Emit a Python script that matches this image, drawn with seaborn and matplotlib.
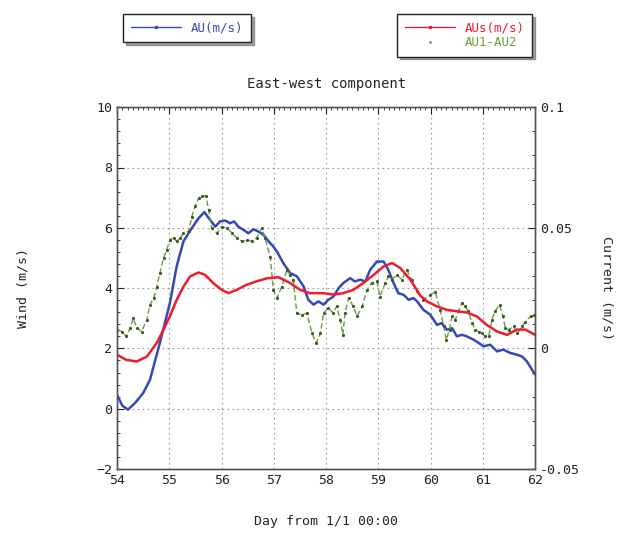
import numpy as np
import pandas as pd
import matplotlib
matplotlib.use("Agg")
import matplotlib.pyplot as plt
import seaborn as sns
from matplotlib.ticker import AutoMinorLocator, FixedLocator, FixedFormatter
from matplotlib.lines import Line2D

# ---- data ----
au_day = [54.0, 54.1, 54.21, 54.35, 54.5, 54.63, 54.82, 55.01, 55.14, 55.27, 55.43, 55.56, 55.67,
          55.78, 55.88, 55.97, 56.07, 56.16, 56.24, 56.32, 56.42, 56.51, 56.61, 56.7, 56.8, 56.9,
          56.99, 57.06, 57.18, 57.31, 57.44, 57.57, 57.66, 57.76, 57.85, 57.95, 58.04, 58.14,
          58.24, 58.33, 58.46, 58.55, 58.65, 58.75, 58.84, 58.97, 59.1, 59.19, 59.29, 59.38,
          59.48, 59.58, 59.67, 59.74, 59.86, 59.99, 60.12, 60.21, 60.31, 60.41, 60.5, 60.6,
          60.69, 60.82, 60.92, 61.01, 61.14, 61.27, 61.39, 61.52, 61.65, 61.75, 61.84, 61.94, 62.0]
au_wind = [0.46, 0.1, -0.03, 0.2, 0.52, 0.96, 2.19, 3.5, 4.72, 5.55, 5.99, 6.32, 6.52,
           6.26, 6.04, 6.21, 6.24, 6.15, 6.21, 6.04, 5.93, 5.82, 5.95, 5.88, 5.77, 5.55,
           5.38, 5.21, 4.83, 4.5, 4.39, 4.05, 3.61, 3.45, 3.56, 3.45, 3.61, 3.72,
           4.0, 4.17, 4.33, 4.22, 4.28, 4.22, 4.6, 4.88, 4.88, 4.6, 4.17, 3.83,
           3.78, 3.61, 3.67, 3.56, 3.28, 3.12, 2.78, 2.84, 2.62, 2.67, 2.4, 2.45,
           2.4, 2.29, 2.18, 2.07, 2.12, 1.9, 1.96, 1.85, 1.79, 1.73, 1.57, 1.29, 1.13]

aus_day = [54.0, 54.18, 54.38, 54.57, 54.76, 54.89, 55.01, 55.14, 55.27, 55.4, 55.56, 55.68,
           55.84, 56.0, 56.13, 56.29, 56.48, 56.67, 56.87, 57.09, 57.31, 57.5, 57.69, 57.95,
           58.14, 58.33, 58.52, 58.71, 58.91, 59.1, 59.26, 59.42, 59.61, 59.8, 59.93, 60.12,
           60.31, 60.5, 60.69, 60.88, 61.07, 61.27, 61.46, 61.65, 61.81, 62.0]
aus_cur = [-0.0026, -0.0048, -0.0054, -0.0034, 0.0023, 0.0078, 0.0133, 0.0201, 0.0256, 0.0299,
           0.0315, 0.0305, 0.0271, 0.0243, 0.0229, 0.0243, 0.0264, 0.0278, 0.0291, 0.0295,
           0.0271, 0.0243, 0.0229, 0.0229, 0.0223, 0.0229, 0.0243, 0.0271, 0.0305, 0.034,
           0.0354, 0.0333, 0.0285, 0.0219, 0.0195, 0.0174, 0.016, 0.0154, 0.0149, 0.0133,
           0.0098, 0.007, 0.0056, 0.0078, 0.0078, 0.0056]

diff_day = [54.0, 54.09, 54.18, 54.25, 54.31, 54.38, 54.47, 54.57, 54.63, 54.7, 54.76, 54.82,
            54.89, 54.95, 55.01, 55.08, 55.14, 55.21, 55.27, 55.37, 55.43, 55.49, 55.56, 55.62,
            55.7, 55.75, 55.81, 55.91, 56.0, 56.1, 56.2, 56.29, 56.39, 56.48, 56.58, 56.67,
            56.77, 56.83, 56.93, 56.99, 57.06, 57.15, 57.25, 57.31, 57.37, 57.44, 57.53, 57.63,
            57.73, 57.81, 57.89, 57.95, 58.04, 58.14, 58.2, 58.27, 58.32, 58.36, 58.43, 58.52,
            58.59, 58.69, 58.78, 58.87, 58.97, 59.03, 59.13, 59.19, 59.26, 59.35, 59.45, 59.54,
            59.64, 59.74, 59.86, 59.99, 60.09, 60.18, 60.25, 60.3, 60.36, 60.41, 60.47, 60.53,
            60.6, 60.66, 60.72, 60.79, 60.85, 60.92, 60.98, 61.04, 61.11, 61.17, 61.23, 61.32,
            61.38, 61.43, 61.49, 61.59, 61.66, 61.75, 61.81, 61.91, 61.98]
diff_cur = [0.0078, 0.007, 0.005, 0.0084, 0.0125, 0.0084, 0.007, 0.0119, 0.0181, 0.0209, 0.0256,
            0.0313, 0.0375, 0.0409, 0.045, 0.0458, 0.0444, 0.0458, 0.0478, 0.0485, 0.0546,
            0.0589, 0.0623, 0.0633, 0.0633, 0.0575, 0.0499, 0.0478, 0.0505, 0.0499, 0.0478,
            0.0458, 0.0444, 0.045, 0.0444, 0.0458, 0.0499, 0.0458, 0.0381, 0.0243, 0.0209,
            0.0256, 0.0325, 0.0305, 0.0285, 0.0146, 0.014, 0.0146, 0.0063, 0.0023, 0.0063,
            0.0146, 0.0168, 0.0146, 0.0174, 0.0119, 0.0056, 0.0146, 0.0209, 0.0174, 0.0133,
            0.0174, 0.0243, 0.0271, 0.0278, 0.0215, 0.0271, 0.0299, 0.0285, 0.0305, 0.0285,
            0.0325, 0.0285, 0.0236, 0.0201, 0.0223, 0.0233, 0.016, 0.0091, 0.0036, 0.0078,
            0.0133, 0.0119, 0.0154, 0.0188, 0.0174, 0.0154, 0.0105, 0.0078, 0.007, 0.0063,
            0.005, 0.005, 0.0119, 0.0154, 0.0181, 0.0133, 0.0084, 0.0078, 0.0091, 0.0063,
            0.0091, 0.0111, 0.0133, 0.014]

wind_ticks = [-2, 0, 2, 4, 6, 8, 10]
cur_ticks = [-0.05, 0, 0.05, 0.1]
cur_labels = ["-0.05", "0", "0.05", "0.1"]
day_ticks = [54, 55, 56, 57, 58, 59, 60, 61, 62]

# ---- style ----
sns.set_style("white")
plt.rcParams['font.family'] = ['DejaVu Sans Mono']
plt.rcParams['font.size'] = 9.5

BLUE = "#3548b8"
RED = "#ee1c2e"
GREEN = "#6a9e3a"

fig = plt.figure(figsize=(6.26, 5.36), dpi=100)
ax = fig.add_axes([0.187, 0.125, 0.668, 0.675])
ax2 = ax.twinx()

df_au = pd.DataFrame({"day": au_day, "v": au_wind})
df_aus = pd.DataFrame({"day": aus_day, "v": aus_cur})
df_diff = pd.DataFrame({"day": diff_day, "v": diff_cur})

sns.lineplot(data=df_au, x="day", y="v", ax=ax, color=BLUE, lw=1.8, sort=False, estimator=None)
sns.lineplot(data=df_diff, x="day", y="v", ax=ax2, color=GREEN, lw=1.0, sort=False,
             estimator=None, linestyle=(0, (4, 2)), marker="o", markersize=1.5,
             markerfacecolor="#3d5a28", markeredgecolor="#3d5a28")
sns.lineplot(data=df_aus, x="day", y="v", ax=ax2, color=RED, lw=1.8, sort=False, estimator=None)

ax.set_xlim(54, 62)
ax.set_ylim(-2, 10)
ax2.set_ylim(-0.05, 0.1)
ax.set_xticks(day_ticks)
ax.set_yticks(wind_ticks)
ax2.yaxis.set_major_locator(FixedLocator(cur_ticks))
ax2.yaxis.set_major_formatter(FixedFormatter(cur_labels))
ax.xaxis.set_minor_locator(AutoMinorLocator(10))
ax.yaxis.set_minor_locator(AutoMinorLocator(5))
ax2.yaxis.set_minor_locator(AutoMinorLocator(5))

ax.grid(True, which="major", color="#999999", linestyle=(0, (1.5, 3)), lw=0.8)
ax.tick_params(which="both", direction="in", top=True, right=False, labelsize=9.5, colors="#222222")
ax.tick_params(which="major", length=5)
ax.tick_params(which="minor", length=2.5)
ax2.tick_params(which="both", direction="in", labelsize=9.5, colors="#222222")
ax2.tick_params(which="major", length=5)
ax2.tick_params(which="minor", length=2.5)
for a in (ax, ax2):
    for s in a.spines.values():
        s.set_color("#555555")
        s.set_linewidth(1.0)

ax.set_xlabel("Day from 1/1 00:00", labelpad=20)
ax.set_ylabel("Wind (m/s)", labelpad=48)
ax2.set_ylabel("Current (m/s)", rotation=270, labelpad=24)
ax.set_title("East-west component", pad=14, fontsize=10)

h1 = [Line2D([], [], color=BLUE, lw=1, marker=".", markersize=3)]
leg1 = fig.legend(h1, ["AU(m/s)"], loc="upper left", bbox_to_anchor=(0.187, 0.985),
                  frameon=True, fancybox=False, shadow=True, edgecolor="#222222",
                  handlelength=4, fontsize=9, borderpad=0.6)
for t in leg1.get_texts():
    t.set_color(BLUE)
h2 = [Line2D([], [], color=RED, lw=1, marker=".", markersize=3),
      Line2D([], [], color=GREEN, lw=0, marker=".", markersize=2)]
leg2 = fig.legend(h2, ["AUs(m/s)", "AU1-AU2"], loc="upper right", bbox_to_anchor=(0.86, 0.985),
                  frameon=True, fancybox=False, shadow=True, edgecolor="#222222",
                  handlelength=4, fontsize=9, labelspacing=0.1, borderpad=0.6)
for t, c in zip(leg2.get_texts(), [RED, GREEN]):
    t.set_color(c)

fig.savefig("out.png", dpi=100)
